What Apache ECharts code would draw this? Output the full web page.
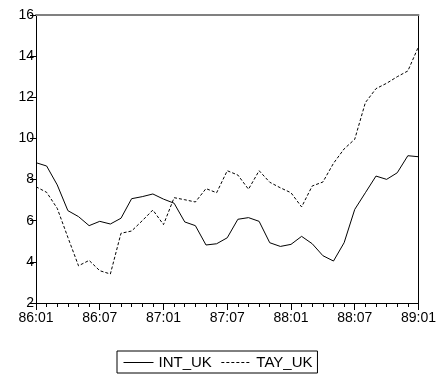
<!DOCTYPE html>
<html>
<head>
<meta charset="utf-8">
<script src="https://cdn.jsdelivr.net/npm/echarts@6/dist/echarts.min.js"></script>
<style>html,body{margin:0;padding:0;background:#fff}#c{width:439px;height:374px}</style>
</head>
<body>
<div id="c"></div>
<script>
var categories = (function(){var a=[];for(var y=86;y<=89;y++){for(var m=1;m<=12;m++){if(y===89&&m>1)break;a.push(y+':'+(m<10?'0':'')+m);}}return a;})();
var intUK = [8.82,8.66,7.74,6.49,6.20,5.76,5.97,5.84,6.12,7.07,7.17,7.30,7.05,6.85,5.94,5.76,4.82,4.88,5.17,6.07,6.15,5.97,4.93,4.75,4.85,5.24,4.88,4.30,4.04,4.93,6.55,7.36,8.17,8.01,8.33,9.16,9.11];
var tayUK = [7.65,7.38,6.60,5.19,3.81,4.07,3.57,3.41,5.39,5.50,6.00,6.52,5.81,7.12,7.02,6.91,7.56,7.36,8.43,8.22,7.53,8.43,7.87,7.60,7.36,6.67,7.69,7.88,8.79,9.49,9.96,11.74,12.42,12.68,13.00,13.28,14.46];
var yTicks = {min:2,max:16,interval:2};

var font = 'Liberation Sans, Arial, sans-serif';
var chart = echarts.init(document.getElementById('c'), null, {renderer:'canvas'});
chart.setOption({
  animation:false,
  backgroundColor:'#fff',
  grid:{left:36,right:19,top:15,bottom:71,containLabel:false},
  legend:{
    bottom:1,left:117,
    data:['INT_UK','TAY_UK'],
    itemWidth:30,itemHeight:14,itemGap:9,
    borderColor:'#000',borderWidth:1,padding:[4,5,3,6],borderRadius:0,
    itemStyle:{opacity:0,borderWidth:0},
    lineStyle:{width:1},
    textStyle:{fontFamily:font,fontSize:15,color:'#000'}
  },
  xAxis:[
    {type:'category',data:categories,boundaryGap:false,position:'bottom',
     axisLine:{lineStyle:{color:'#000',width:1}},
     axisTick:{interval:0,length:4,lineStyle:{color:'#000'}},
     axisLabel:{interval:5,color:'#000',fontFamily:font,fontSize:14,margin:8},
     splitLine:{show:false}},
    {type:'category',data:categories,boundaryGap:false,position:'bottom',
     axisLine:{show:false},
     axisTick:{interval:5,length:7,lineStyle:{color:'#000'}},
     axisLabel:{show:false},splitLine:{show:false}},
    {type:'category',data:categories,boundaryGap:false,position:'top',
     axisLine:{lineStyle:{color:'#808080',width:2}},
     axisTick:{show:false},axisLabel:{show:false},splitLine:{show:false}}
  ],
  yAxis:[
    {type:'value',min:yTicks.min,max:yTicks.max,interval:yTicks.interval,
     axisLine:{show:true,lineStyle:{color:'#000'}},
     axisTick:{show:true,length:6,lineStyle:{color:'#000'}},
     axisLabel:{color:'#000',fontFamily:font,fontSize:14,margin:2},
     splitLine:{show:false}},
    {type:'value',min:yTicks.min,max:yTicks.max,interval:yTicks.interval,position:'right',
     axisLine:{show:true,lineStyle:{color:'#000'}},
     axisTick:{show:false},axisLabel:{show:false},splitLine:{show:false}}
  ],
  series:[
    {name:'INT_UK',type:'line',data:intUK,symbol:'none',
     lineStyle:{color:'#000',width:1,type:'solid'},itemStyle:{color:'#000'}},
    {name:'TAY_UK',type:'line',data:tayUK,symbol:'none',
     lineStyle:{color:'#000',width:1,type:[3,2]},itemStyle:{color:'#000'}}
  ]
});
</script>
</body>
</html>
